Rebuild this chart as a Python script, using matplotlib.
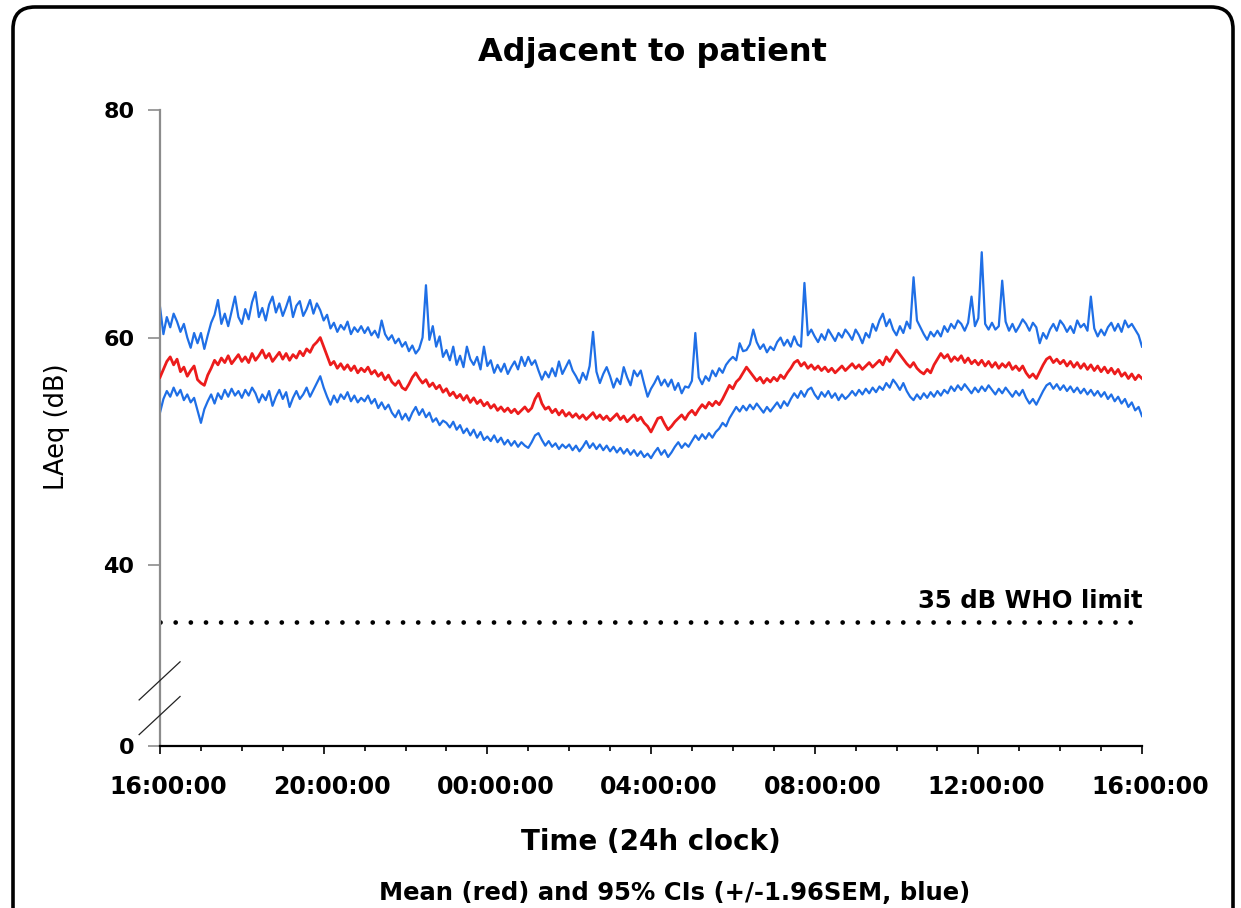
import numpy as np
import matplotlib
matplotlib.use("Agg")
import matplotlib.pyplot as plt
from matplotlib.patches import FancyBboxPatch
from matplotlib.transforms import IdentityTransform, ScaledTranslation
from matplotlib.ticker import MultipleLocator

# LAeq readings every 5 minutes, 16:00 -> 16:00 next day (one row per hour)
mean_db = [
    56.5, 57.2, 57.9, 58.3, 57.6, 58.1, 57.0, 57.4, 56.6, 57.1, 57.5, 56.3,
    56.0, 55.8, 56.7, 57.3, 58.0, 57.6, 58.2, 57.8, 58.4, 57.7, 58.1, 58.5,
    57.9, 58.3, 57.8, 58.6, 58.0, 58.4, 58.9, 58.2, 58.6, 57.9, 58.3, 58.7,
    58.1, 58.6, 58.0, 58.5, 58.2, 58.8, 58.4, 59.0, 58.7, 59.3, 59.6, 60.0,
    59.2, 58.4, 57.6, 57.9, 57.3, 57.7, 57.2, 57.6, 57.1, 57.5, 56.9, 57.3,
    57.0, 57.4, 56.8, 57.1, 56.6, 56.9, 56.3, 56.7, 56.1, 55.8, 56.2, 55.6,
    55.4, 55.9, 56.5, 56.9, 56.4, 56.0, 56.3, 55.7, 56.0, 55.5, 55.8, 55.2,
    55.5, 54.9, 55.2, 54.7, 55.0, 54.5, 54.9, 54.3, 54.7, 54.2, 54.5, 54.0,
    54.3, 53.8, 54.1, 53.6, 53.9, 53.5, 53.8, 53.4, 53.7, 53.3, 53.6, 53.9,
    53.5, 53.8, 54.6, 55.1, 54.2, 53.7, 53.9, 53.4, 53.7, 53.2, 53.6, 53.1,
    53.4, 53.0, 53.3, 52.9, 53.2, 52.8, 53.1, 53.4, 52.9, 53.2, 52.8, 53.1,
    52.7, 53.0, 53.3, 52.8, 53.1, 52.6, 52.9, 53.2, 52.7, 53.0, 52.5, 52.2,
    51.7, 52.3, 52.9, 53.0, 52.4, 51.9, 52.2, 52.6, 52.9, 53.2, 52.8, 53.3,
    53.6, 53.2, 53.7, 54.1, 53.8, 54.3, 54.0, 54.4, 54.1, 54.6, 55.2, 55.8,
    55.5, 56.1, 56.4, 56.9, 57.4, 57.0, 56.6, 56.2, 56.5, 56.0, 56.4, 56.1,
    56.5, 56.2, 56.7, 56.4, 56.9, 57.3, 57.8, 58.0, 57.5, 57.8, 57.3, 57.6,
    57.2, 57.5, 57.1, 57.4, 57.0, 57.3, 56.9, 57.2, 57.5, 57.1, 57.4, 57.7,
    57.3, 57.6, 57.2, 57.5, 57.8, 57.4, 57.7, 58.0, 57.6, 58.3, 57.9, 58.4,
    58.9, 58.5, 58.1, 57.7, 57.4, 57.8, 57.3, 57.0, 56.8, 57.2, 56.9, 57.6,
    58.1, 58.6, 58.2, 58.5, 57.9, 58.3, 58.0, 58.4, 57.8, 58.2, 57.7, 58.0,
    57.6, 58.0, 57.5, 57.9, 57.4, 57.8, 57.3, 57.7, 57.4, 57.8, 57.2, 57.5,
    57.1, 57.5, 56.9, 56.5, 56.8, 56.4, 57.0, 57.6, 58.1, 58.3, 57.8, 58.1,
    57.7, 58.0, 57.5, 57.9, 57.4, 57.8, 57.3, 57.7, 57.2, 57.6, 57.1, 57.5,
    57.0, 57.4, 56.9, 57.3, 56.8, 57.2, 56.6, 56.9, 56.4, 56.8, 56.3, 56.7,
    56.4,
]

upper_db = [
    62.7, 60.3, 61.8, 60.9, 62.1, 61.4, 60.5, 61.2, 60.0, 59.1, 60.4, 59.5,
    60.4, 59.0, 60.2, 61.3, 62.0, 63.3, 61.2, 62.1, 61.0, 62.3, 63.6, 61.8,
    61.2, 62.5, 61.6, 63.1, 64.0, 61.8, 62.6, 61.5, 62.9, 63.6, 62.2, 63.0,
    61.9, 62.7, 63.6, 61.8, 62.8, 63.2, 61.9, 62.5, 63.3, 62.1, 63.0, 62.4,
    61.5, 62.0, 60.8, 61.3, 60.5, 61.1, 60.7, 61.4, 60.3, 60.9, 60.5, 61.0,
    60.4, 60.9, 60.2, 60.6, 60.0, 61.5, 60.3, 59.8, 60.2, 59.5, 59.9, 59.2,
    59.6, 58.8, 59.3, 58.6, 59.0, 60.0, 64.6, 59.8, 61.0, 59.2, 60.1, 58.3,
    58.9, 58.0, 59.2, 57.6, 58.4, 57.4, 59.2, 58.1, 57.6, 58.3, 57.2, 59.2,
    57.5, 58.0, 56.9, 57.6, 57.0, 57.7, 56.8, 57.4, 57.9, 57.2, 58.3, 57.5,
    58.3, 57.6, 58.0, 57.1, 56.3, 57.0, 56.5, 57.3, 56.6, 57.9, 56.8, 57.4,
    58.0, 57.1, 56.6, 56.0, 56.9, 56.3, 57.5, 60.5, 57.0, 56.0, 56.8, 57.4,
    56.6, 55.6, 56.4, 55.9, 57.4, 56.5, 55.8, 57.1, 56.6, 57.1, 55.9, 54.8,
    55.5, 56.0, 56.6, 55.8, 56.3, 55.7, 56.3, 55.4, 56.0, 55.1, 55.7, 55.6,
    56.2, 60.4, 56.5, 55.9, 56.6, 56.2, 57.1, 56.6, 57.3, 56.9, 57.6, 58.0,
    58.3, 58.0, 59.5, 58.8, 58.9, 59.4, 60.7, 59.6, 59.0, 59.4, 58.7, 59.2,
    58.9, 59.6, 60.0, 59.3, 59.8, 59.2, 60.1, 59.4, 59.2, 64.8, 60.2, 60.7,
    60.1, 59.6, 60.3, 59.8, 60.7, 60.2, 59.7, 60.4, 60.0, 60.7, 60.3, 59.8,
    60.7, 60.2, 59.5, 60.4, 60.0, 61.2, 60.6, 61.5, 62.1, 61.0, 61.6, 60.7,
    60.2, 61.0, 60.4, 61.4, 60.8, 65.3, 61.5, 60.9, 60.3, 59.8, 60.5, 60.1,
    60.6, 60.1, 61.0, 60.5, 61.2, 60.8, 61.5, 61.2, 60.6, 61.3, 63.6, 61.0,
    61.7, 67.5, 61.2, 60.7, 61.3, 60.7, 61.0, 65.0, 61.4, 60.6, 61.2, 60.5,
    61.0, 61.6, 61.2, 60.6, 61.3, 60.9, 59.5, 60.4, 59.9, 60.7, 61.2, 60.6,
    61.5, 61.1, 60.5, 61.0, 60.4, 61.5, 60.9, 61.2, 60.6, 63.6, 60.8, 60.1,
    60.7, 60.2, 60.9, 61.3, 60.6, 61.2, 60.5, 61.5, 60.9, 61.2, 60.7, 60.2,
    59.2,
]

lower_db = [
    53.4, 54.6, 55.3, 54.8, 55.6, 54.9, 55.4, 54.5, 55.0, 54.3, 54.7, 53.6,
    52.5, 53.7, 54.4, 55.0, 54.2, 55.1, 54.6, 55.4, 54.8, 55.5, 54.9, 55.3,
    54.7, 55.4, 54.9, 55.6, 55.1, 54.3, 55.0, 54.5, 55.3, 54.0, 54.8, 55.4,
    54.6, 55.2, 53.9, 54.7, 55.3, 54.6, 55.0, 55.6, 54.8, 55.4, 56.0, 56.6,
    55.6, 54.8, 54.1, 54.9, 54.3, 55.0, 54.6, 55.2, 54.4, 54.9, 54.3, 54.7,
    54.4, 54.9, 54.2, 54.6, 53.8, 54.3, 53.7, 54.1, 53.4, 53.0, 53.6, 52.8,
    53.3, 52.7, 53.4, 53.9, 53.2, 53.7, 53.0, 53.4, 52.6, 52.9, 52.3, 52.7,
    52.5, 52.1, 52.6, 51.9, 52.3, 51.6, 52.0, 51.4, 51.9, 51.2, 51.7, 51.0,
    51.3, 50.9, 51.4, 50.8, 51.2, 50.6, 51.0, 50.5, 50.9, 50.4, 50.8, 50.5,
    50.3, 50.8, 51.4, 51.6, 51.0, 50.5, 50.9, 50.4, 50.7, 50.2, 50.6, 50.3,
    50.6, 50.1, 50.5, 50.0, 50.4, 50.9, 50.3, 50.7, 50.2, 50.6, 50.1, 50.5,
    50.0, 50.4, 49.9, 50.3, 49.8, 50.2, 49.7, 50.1, 49.6, 50.0, 49.5, 49.8,
    49.4, 49.9, 50.3, 49.7, 50.1, 49.5, 49.9, 50.4, 50.8, 50.3, 50.7, 50.4,
    50.9, 51.4, 51.0, 51.5, 51.1, 51.6, 51.2, 51.7, 52.0, 52.5, 52.2, 52.9,
    53.4, 53.9, 53.5, 54.0, 53.6, 54.1, 53.7, 54.2, 53.8, 53.4, 53.9, 53.5,
    53.9, 54.3, 53.8, 54.4, 54.0, 54.6, 55.1, 54.7, 55.3, 54.8, 55.4, 55.6,
    55.0, 54.6, 55.2, 54.8, 55.3, 54.7, 55.1, 54.5, 55.0, 54.6, 54.9, 55.3,
    54.9, 55.4, 55.0, 55.5, 55.1, 55.6, 55.2, 55.7, 55.4, 56.0, 55.6, 56.3,
    55.9, 55.4, 56.0, 55.3, 54.8, 54.5, 55.0, 54.6, 55.1, 54.7, 55.2, 54.8,
    55.3, 54.9, 55.4, 55.1, 55.7, 55.3, 55.8, 55.4, 55.9, 55.5, 55.1, 55.6,
    55.2, 55.7, 55.3, 55.8, 55.4, 55.0, 55.5, 55.1, 55.6, 55.2, 54.8, 55.3,
    54.9, 55.4, 54.7, 54.2, 54.6, 54.1, 54.7, 55.3, 55.8, 56.0, 55.5, 55.9,
    55.4, 55.8, 55.3, 55.7, 55.2, 55.6, 55.1, 55.5, 55.0, 55.4, 54.9, 55.3,
    54.8, 55.2, 54.6, 55.0, 54.4, 54.8, 54.2, 54.6, 53.9, 54.3, 53.6, 53.9,
    53.1,
]

who_limit = 35
x_ticklabels = ["16:00:00", "20:00:00", "00:00:00", "04:00:00",
                "08:00:00", "12:00:00", "16:00:00"]
y_ticklabels = ["0", "40", "60", "80"]

# hours elapsed since 16:00, 5 minute sampling
hours = np.arange(len(mean_db)) * 5 / 60.0

# the axis is broken below 40 dB; "0" sits where the scale would reach ~24 dB
y_bottom = 24.1
y_ticks = [y_bottom, 40, 60, 80]

BLUE = "#1f6fe6"
RED = "#ec1c1c"

fig = plt.figure(figsize=(12.41, 9.08), dpi=100)
ax = fig.add_axes([160 / 1241, 1 - 746 / 908, 982 / 1241, 636 / 908])

ax.plot(hours, upper_db, color=BLUE, lw=1.6, zorder=2)
ax.plot(hours, lower_db, color=BLUE, lw=1.6, zorder=2)
ax.plot(hours, mean_db, color=RED, lw=2.0, zorder=3)

ax.axhline(who_limit, color="black", lw=3.4, linestyle=(0, (0.01, 3.2)),
           dash_capstyle="round", zorder=1)
ax.text(24, who_limit + 0.8, "35 dB WHO limit", ha="right", va="bottom",
        fontsize=17.5, fontweight="bold")

ax.set_xlim(0, 24)
ax.set_ylim(y_bottom, 80)
ax.xaxis.set_minor_locator(MultipleLocator(1))
ax.set_xticks(np.arange(0, 25, 4))
ax.set_xticklabels(x_ticklabels, fontsize=17, fontweight="bold")
ax.set_yticks(y_ticks)
ax.set_yticklabels(y_ticklabels, fontsize=16, fontweight="bold")

for s in ["top", "right"]:
    ax.spines[s].set_visible(False)
ax.spines["left"].set_color("#8c8c8c")
ax.spines["left"].set_linewidth(1.6)
ax.spines["bottom"].set_linewidth(1.6)
ax.tick_params(axis="y", length=8.5, width=1.2, color="#8c8c8c", pad=10)
ax.tick_params(axis="x", which="major", length=6, width=1.2, pad=15)
ax.tick_params(axis="x", which="minor", length=3.5, width=1.2)

shift = ScaledTranslation(8 / 100, 0, fig.dpi_scale_trans)
for lab in ax.get_xticklabels():
    lab.set_transform(lab.get_transform() + shift)

# axis break marks
for y0 in [28.15, 25.1]:
    ax.plot([-0.51, 0.49], [y0, y0 + 3.35], color="#222222", lw=0.9,
            clip_on=False, zorder=4)

fig.text(652 / 1241, 1 - 52 / 908, "Adjacent to patient", ha="center",
         va="center", fontsize=23, fontweight="bold")
fig.text(651 / 1241, 1 - 842 / 908, "Time (24h clock)", ha="center",
         va="center", fontsize=20, fontweight="bold")
fig.text(675 / 1241, 1 - 893 / 908, "Mean (red) and 95% CIs (+/-1.96SEM, blue)",
         ha="center", va="center", fontsize=17.5, fontweight="bold")
fig.text(57 / 1241, 1 - 427 / 908, "LAeq (dB)", ha="center", va="center",
         rotation=90, fontsize=18.5)

border = FancyBboxPatch((13, -40), 1220, 941, boxstyle="round,pad=0,rounding_size=22",
                        transform=IdentityTransform(), facecolor="none",
                        edgecolor="black", lw=2.6)
fig.add_artist(border)

fig.savefig("out.png", dpi=100)
